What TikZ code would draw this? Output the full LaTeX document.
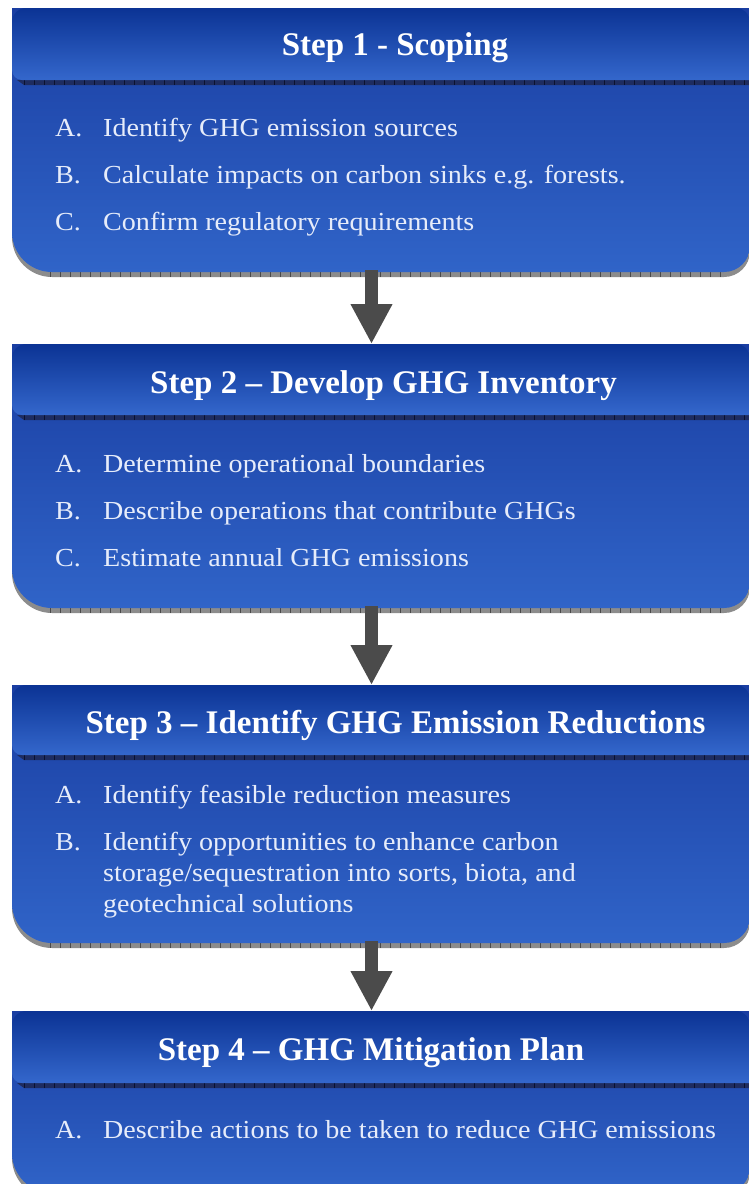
\documentclass[tikz,border=0pt]{standalone}
\usepackage{fontspec}
\setmainfont{Liberation Serif}
\newfontfamily\bodyfont[FakeStretch=1.08]{Liberation Serif}
\usetikzlibrary{arrows.meta}
\definecolor{hdtop}{HTML}{0B3394}
\definecolor{hdbot}{HTML}{3467CC}
\definecolor{bdtop}{HTML}{1A3EA2}
\definecolor{bdbot}{HTML}{3064C8}
\definecolor{stripe}{HTML}{1E2C60}
\definecolor{stripetick}{HTML}{0B1230}
\definecolor{shadowgray}{HTML}{8C8C8C}
\definecolor{shadowtick}{HTML}{4A4A4A}
\definecolor{bodytext}{HTML}{E6ECFA}
\definecolor{arrowgray}{HTML}{4B4B4B}
\tikzset{
  itemlab/.style={anchor=base west, inner sep=0pt, text=bodytext, font=\bodyfont\fontsize{26}{31}\selectfont},
  itemtxt/.style={itemlab},
  hdtxt/.style={anchor=base, inner sep=0pt, text=white, font=\fontsize{33}{38}\selectfont\bfseries},
  flowarrow/.style={arrowgray, line width=13pt, -{Triangle[width=39pt,length=40pt]}},
}
% #1 top, #2 header bottom, #3 body bottom
\newcommand\ghgstep[3]{%
  \fill[shadowgray] (12,#1) -- (12,#3+5-40) arc[start angle=180,end angle=90,radius=40]
    -- (724,#3+5) arc[start angle=90,end angle=0,radius=26] -- (750,#1) -- cycle;
  \draw[shadowtick, line width=5pt, dash pattern=on 1pt off 9pt] (50,#3+2.5) -- (726,#3+2.5);
  \shade[top color=bdtop, bottom color=bdbot] (12,#1) -- (12,#3-40) arc[start angle=180,end angle=90,radius=40]
    -- (724,#3) arc[start angle=90,end angle=0,radius=26] -- (750,#1) -- cycle;
  \fill[stripe] (17,#2) -- (750,#2) -- (750,#2+5) -- (24,#2+5) -- cycle;
  \draw[stripetick, line width=5pt, dash pattern=on 1pt off 9pt] (24,#2+2.5) -- (750,#2+2.5);
  \shade[top color=hdtop, bottom color=hdbot] (22,#2) arc[start angle=90,end angle=180,radius=10]
    -- (12,#1+14) arc[start angle=180,end angle=270,radius=14]
    -- (736,#1) arc[start angle=270,end angle=360,radius=14] -- (750,#2) -- cycle;
}
\begin{document}
\begin{tikzpicture}[x=1pt,y=-1pt]
\useasboundingbox (0,0) rectangle (748,1184);
\fill[white] (0,0) rectangle (748,1184);

\ghgstep{8}{80}{272}
\ghgstep{344}{415}{608}
\ghgstep{685}{755}{943}
\ghgstep{1011}{1083}{1193}

% arrows
\coordinate (a1s) at (371.5,270);
\coordinate (a1e) at (371.5,344);
\coordinate (a2s) at (371.5,606);
\coordinate (a2e) at (371.5,685);
\coordinate (a3s) at (371.5,941);
\coordinate (a3e) at (371.5,1011);
\draw[flowarrow] (a1s) -- (a1e);
\draw[flowarrow] (a2s) -- (a2e);
\draw[flowarrow] (a3s) -- (a3e);

% Step 1
\node[hdtxt] (h1) at (395,55) {Step 1 - Scoping};
\node[itemlab] (l1a) at (55,136) {A.};
\node[itemtxt] (t1a) at (103,136) {Identify GHG emission sources};
\node[itemlab] (l1b) at (55,183) {B.};
\node[itemtxt] (t1b) at (103,183) {Calculate impacts on carbon sinks e.g. forests.};
\node[itemlab] (l1c) at (55,230) {C.};
\node[itemtxt] (t1c) at (103,230) {Confirm regulatory requirements};

% Step 2
\node[hdtxt] (h2) at (383.5,393) {Step 2 – Develop GHG Inventory};
\node[itemlab] (l2a) at (55,472.5) {A.};
\node[itemtxt] (t2a) at (103,472.5) {Determine operational boundaries};
\node[itemlab] (l2b) at (55,519.5) {B.};
\node[itemtxt] (t2b) at (103,519.5) {Describe operations that contribute GHGs};
\node[itemlab] (l2c) at (55,566.5) {C.};
\node[itemtxt] (t2c) at (103,566.5) {Estimate annual GHG emissions};

% Step 3
\node[hdtxt] (h3) at (395.5,733) {Step 3 – Identify GHG Emission Reductions};
\node[itemlab] (l3a) at (55,803.5) {A.};
\node[itemtxt] (t3a) at (103,803.5) {Identify feasible reduction measures};
\node[itemlab] (l3b) at (55,850.5) {B.};
\node[itemtxt] (t3b1) at (103,850.5) {Identify opportunities to enhance carbon};
\node[itemtxt] (t3b2) at (103,881.5) {storage/sequestration into sorts, biota, and};
\node[itemtxt] (t3b3) at (103,912.5) {geotechnical solutions};

% Step 4
\node[hdtxt] (h4) at (371,1060) {Step 4 – GHG Mitigation Plan};
\node[itemlab] (l4a) at (55,1138.5) {A.};
\node[itemtxt] (t4a) at (103,1138.5) {Describe actions to be taken to reduce GHG emissions};
\end{tikzpicture}
\end{document}
